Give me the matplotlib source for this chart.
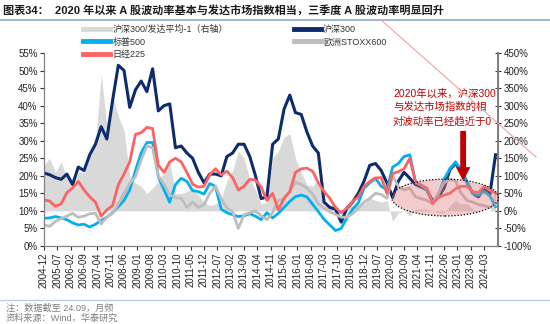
import numpy as np
import pandas as pd
import matplotlib
matplotlib.use('Agg')
import matplotlib.pyplot as plt
from matplotlib.lines import Line2D
from matplotlib.patches import Ellipse
from matplotlib.ticker import FuncFormatter

plt.rcParams['font.family'] = ['Liberation Sans', 'Noto Sans CJK SC']

# monthly axis 2004-12 .. 2024-09, values every 3 months
months = pd.period_range('2004-12', '2024-09', freq='M')
step = 3
tick_every = 7

# realised volatility, % (left axis)
hs300 = [20.8, 20.3, 19.5, 19.0, 20.5, 17.5, 22.5, 21.5,
         26.0, 29.0, 34.0, 30.5, 41.5, 51.5, 50.0, 39.5,
         44.5, 47.0, 44.0, 50.5, 38.5, 40.0, 40.5, 28.0,
         28.5, 26.5, 25.0, 21.0, 18.0, 20.5, 20.5, 20.0,
         25.5, 26.5, 29.0, 29.0, 25.5, 20.0, 13.5, 14.0,
         29.0, 30.5, 39.0, 43.0, 38.0, 37.5, 32.5, 28.5,
         26.5, 12.5, 11.0, 10.5, 6.8, 10.8, 12.5, 15.0,
         18.5, 23.0, 23.5, 21.5, 18.0, 13.8, 18.5, 21.0,
         19.3, 17.5, 16.8, 16.0, 12.8, 14.0, 16.5, 21.7,
         23.5, 21.5, 18.2, 15.0, 14.0, 16.3, 14.6, 26.0]
sp500 = [7.9, 8.0, 8.4, 8.0, 7.5, 6.6, 6.0, 6.2,
         5.4, 6.2, 7.3, 8.2, 9.5, 11.2, 13.0, 16.0,
         21.5, 26.5, 29.5, 29.5, 19.8, 16.0, 12.5, 17.5,
         19.3, 18.4, 15.8, 15.5, 14.8, 17.8, 17.0, 10.5,
         9.5, 8.9, 8.4, 8.6, 9.2, 8.5, 7.5, 9.5,
         8.0, 9.3, 11.0, 12.7, 14.1, 14.5, 14.0, 11.9,
         9.8, 7.6, 6.0, 4.4, 5.0, 8.0, 10.5, 12.3,
         16.5, 18.0, 19.3, 17.0, 16.0, 22.5, 23.5, 25.5,
         26.0, 18.2, 17.2, 15.8, 12.3, 14.6, 19.0, 22.0,
         24.0, 21.5, 18.2, 15.0, 14.5, 15.5, 14.3, 11.2]
nikkei = [13.1, 12.8, 11.3, 12.0, 15.2, 16.5, 18.4, 16.0,
          14.0, 12.5, 8.5, 10.3, 11.5, 17.5, 20.5, 24.0,
          31.8, 32.3, 33.8, 33.5, 23.0, 21.0, 24.0, 25.0,
          24.0, 21.0, 17.6, 16.8, 17.0, 20.3, 22.0, 20.3,
          21.3, 19.5, 16.0, 17.0, 19.0, 18.8, 16.8, 13.0,
          15.0, 10.3, 13.6, 15.5, 21.0, 22.0, 22.2, 21.3,
          18.0, 15.5, 13.6, 11.0, 9.5, 10.8, 12.7, 14.0,
          17.0, 18.4, 19.4, 19.5, 15.0, 20.6, 21.2, 22.0,
          25.0, 18.2, 17.4, 16.5, 12.0, 13.8, 14.5, 15.0,
          16.3, 17.0, 17.0, 15.5, 15.2, 17.0, 16.0, 15.0]
stoxx600 = [6.0, 5.6, 7.0, 7.8, 8.5, 9.3, 8.2, 8.5,
            9.2, 9.3, 6.3, 8.3, 9.3, 12.0, 15.0, 17.8,
            19.8, 24.5, 28.5, 28.0, 20.0, 17.5, 14.6, 13.8,
            13.6, 11.0, 12.5, 11.0, 11.8, 15.0, 17.0, 13.5,
            10.8, 9.8, 5.0, 8.9, 9.5, 10.0, 8.6, 7.5,
            9.5, 13.0, 13.5, 15.5, 18.2, 17.5, 16.5, 14.8,
            12.0, 10.8, 9.8, 9.0, 8.2, 8.2, 9.2, 10.8,
            12.5, 13.6, 15.0, 14.7, 13.6, 20.0, 17.0, 16.0,
            16.5, 14.0, 13.5, 13.0, 12.0, 15.0, 18.0, 19.0,
            18.5, 15.0, 13.0, 12.5, 11.8, 11.5, 11.0, 12.0]
# HS300 / developed-market average - 1, % (right axis)
rel_vol = [130, 150, 110, 140, 95, 65, 110, 110,
           170, 190, 390, 245, 330, 270, 230, 100,
           80, 70, 50, 65, 85, 110, 140, 50,
           50, 55, 65, 45, 25, 15, 20, 35,
           85, 115, 170, 150, 90, 60, 20, 25,
           150, 170, 210, 220, 150, 110, 75, 70,
           90, 15, 15, 20, -10, 20, 15, 20,
           20, 38, 30, 25, 30, -30, -5, 0,
           -15, 5, 5, 5, 0, -5, -5, 15,
           30, 20, 20, 5, 0, 0, 0, 70]

names = ['沪深300/发达平均-1（右轴）', '沪深300', '标普500', '欧洲STOXX600', '日经225']
colors = ['#D9D9D9', '#0C2C6E', '#00B0F0', '#BDBDBD', '#FF6262']
note_text = '2020年以来，沪深300\n与发达市场指数的相\n对波动率已经趋近于0'

x = np.arange(len(months))[::step]

fig = plt.figure(figsize=(5.5, 3.24), dpi=100)
ax = fig.add_axes([44 / 550, 1 - 246 / 324, 454 / 550, 193 / 324])
ax2 = ax.twinx()
ax.set_zorder(ax2.get_zorder() + 1)
ax.patch.set_visible(False)

ax2.fill_between(x, 0, rel_vol, color=colors[0], lw=0)
ax.plot(x, hs300, color=colors[1], lw=2.2)
ax.plot(x, sp500, color=colors[2], lw=2.0)
ax.plot(x, stoxx600, color=colors[3], lw=2.0)
ax.plot(x, nikkei, color=colors[4], lw=2.0)

ax.set_xlim(0, len(months) + 0.3)
ax.set_ylim(0, 55)
ax2.set_ylim(-100, 450)
ax.set_yticks(np.arange(0, 56, 5))
ax2.set_yticks(np.arange(-100, 451, 50))
pct = FuncFormatter(lambda v, p: '{:.0f}%'.format(v))
ax.yaxis.set_major_formatter(pct)
ax2.yaxis.set_major_formatter(pct)

ticks = np.arange(0, len(months), tick_every)
ax.set_xticks(ticks)
ax.set_xticklabels([months[i].strftime('%Y-%m') for i in ticks], rotation=90)

for a in (ax, ax2):
    a.spines['top'].set_visible(False)
    for s in ('left', 'right', 'bottom'):
        a.spines[s].set_color('#7F7F7F')
    a.tick_params(labelsize=7, colors='#333333', length=3, width=0.8)
ax.tick_params(axis='x', pad=1.5)
ax.tick_params(axis='y', pad=1.5)
ax2.spines['right'].set_linewidth(1.4)
ax2.tick_params(axis='y', direction='inout', length=4, pad=2)
for t in ax.get_xticklabels() + ax.get_yticklabels() + ax2.get_yticklabels():
    t.set_color('#222222')

# highlighted zone since 2020
ell = Ellipse((210.5, 13.8), 56, 10.5, facecolor='#E08080', alpha=0.4,
              edgecolor='none', clip_on=False, zorder=5)
ax.add_patch(ell)
ell_edge = Ellipse((210.5, 13.8), 56, 10.5, facecolor='none', edgecolor='black',
                   lw=0.9, ls=(0, (1, 1.5)), clip_on=False, zorder=6)
ax.add_patch(ell_edge)

ax.annotate('', xy=(220, 17.8), xytext=(220, 33.6),
            arrowprops=dict(arrowstyle='simple,head_length=0.7,head_width=0.75,tail_width=0.3',
                            color='#C00000', lw=0, mutation_scale=14), zorder=7)
ax.text((393 - 44) / 454, (246 - 88) / 193, note_text, transform=ax.transAxes,
        color='#C00000', fontsize=7.5, va='top', ha='left', linespacing=1.45, zorder=8)

# legend, row-major like the source
h = [Line2D([], [], color=c, lw=3.5) for c in colors]
order = [0, 2, 4, 1, 3]
leg = fig.legend([h[i] for i in order], [names[i] for i in order],
                 loc='upper left', bbox_to_anchor=(83 / 550, 1 - 25 / 324), ncol=2,
                 frameon=False, fontsize=6.5, handlelength=3.0, handletextpad=0.25,
                 columnspacing=7.3, labelspacing=0.38, borderpad=0, borderaxespad=0)
for t in leg.get_texts():
    t.set_color('#333333')

# title, rules, notes
fig.text(0.006, 1 - 10 / 324, '图表34：  2020 年以来 A 股波动率基本与发达市场指数相当，三季度 A 股波动率明显回升',
         fontsize=8, fontweight='bold', va='center', color='#1A1A1A')
fig.add_artist(Line2D([0, 1], [1 - 19.5 / 324] * 2, color='#8FAACC', lw=1.2))
fig.add_artist(Line2D([381 / 550, 536 / 550], [1 - 20 / 324, 1 - 157 / 324], color='#F2A2A2', lw=0.8))
fig.add_artist(Line2D([0, 1], [1 - 300 / 324] * 2, color='#B8CCE4', lw=1.0))
fig.text(0.01, 1 - 308 / 324, '注：数据截至 24.09，月频', fontsize=6.6, color='#7F7F7F', va='center')
fig.text(0.01, 1 - 318 / 324, '资料来源：Wind，华泰研究', fontsize=6.6, color='#7F7F7F', va='center')

fig.savefig('out.png', dpi=100)
